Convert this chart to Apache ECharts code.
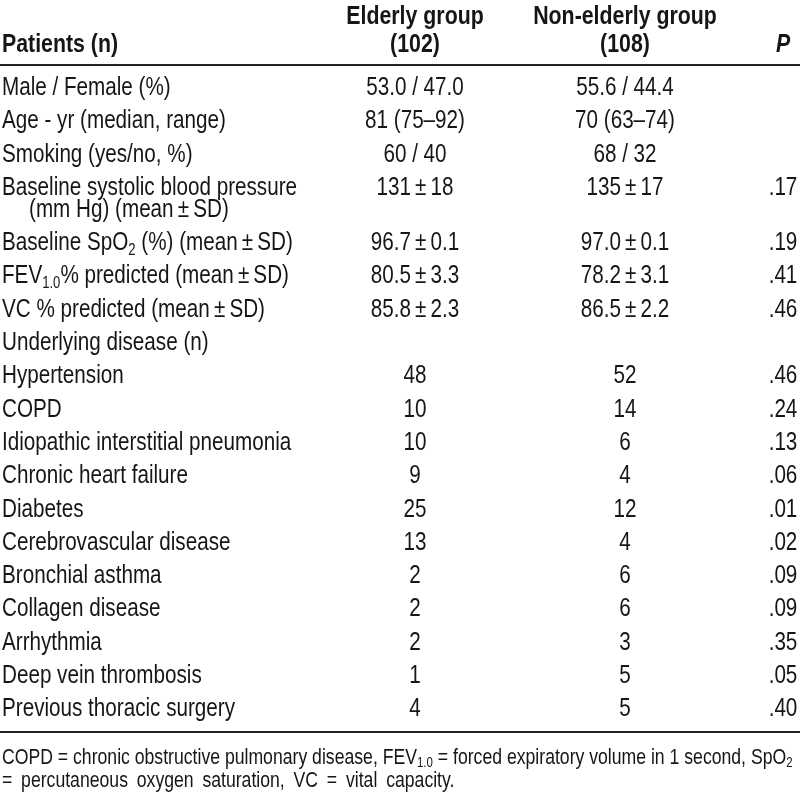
<!DOCTYPE html>
<html>
<head>
<meta charset="utf-8">
<script src="https://cdn.jsdelivr.net/npm/echarts@6/dist/echarts.min.js"></script>
<style>html,body{margin:0;padding:0;background:#fff}#c{width:800px;height:800px}</style>
</head>
<body>
<div id="c"></div>
<script>
// ---- data ----
const headerTop = ['', 'Elderly group', 'Non-elderly group', ''];
const headerBottom = ['Patients (n)', '(102)', '(108)', 'P'];
const rowLabels = [
  'Male / Female (%)',
  'Age - yr (median, range)',
  'Smoking (yes/no, %)',
  'Baseline systolic blood pressure\n(mm Hg) (mean\u2009±\u2009SD)',
  'Baseline SpO{sub|2} (%) (mean\u2009±\u2009SD)',
  'FEV{sub|1.0}% predicted (mean\u2009±\u2009SD)',
  'VC % predicted (mean\u2009±\u2009SD)',
  'Underlying disease (n)',
  'Hypertension',
  'COPD',
  'Idiopathic interstitial pneumonia',
  'Chronic heart failure',
  'Diabetes',
  'Cerebrovascular disease',
  'Bronchial asthma',
  'Collagen disease',
  'Arrhythmia',
  'Deep vein thrombosis',
  'Previous thoracic surgery'
];
const elderly = ['53.0 / 47.0', '81 (75–92)', '60 / 40', '131\u2009±\u200918', '96.7\u2009±\u20090.1', '80.5\u2009±\u20093.3', '85.8\u2009±\u20092.3', '', '48', '10', '10', '9', '25', '13', '2', '2', '2', '1', '4'];
const nonElderly = ['55.6 / 44.4', '70 (63–74)', '68 / 32', '135\u2009±\u200917', '97.0\u2009±\u20090.1', '78.2\u2009±\u20093.1', '86.5\u2009±\u20092.2', '', '52', '14', '6', '4', '12', '4', '6', '6', '3', '5', '5'];
const pValues = ['', '', '', '.17', '.19', '.41', '.46', '', '.46', '.24', '.13', '.06', '.01', '.02', '.09', '.09', '.35', '.05', '.40'];
const footnote = [
  'COPD = chronic obstructive pulmonary disease, FEV{fsub|1.0} = forced expiratory volume in 1 second, SpO{fsub|2}',
  '= percutaneous oxygen saturation, VC = vital capacity.'
];

// ---- layout & style ----
const FONT = "'Liberation Sans', Arial, sans-serif";
const NARROW = 0.82;           // horizontal compression to mimic a condensed face
const colX = [2, 415, 625, 783];
const indent = 27;
const headY = [17, 45];
const firstRowY = 88;
const pitch = 33.3;
const subLine = 22;
const ruleTop = 65;
const ruleBottom = 732;
const footY = [758, 781];
const footWideSpace = [false, true];
const COLOR = '#161616';
const BODY = 25.2, HEAD = 26, FOOT = 21.5;

const rich = {
  sub: { fontSize: 16, lineHeight: 14, verticalAlign: 'bottom', fontFamily: FONT, fill: COLOR },
  fsub: { fontSize: 14, lineHeight: 12, verticalAlign: 'bottom', fontFamily: FONT, fill: COLOR }
};

const cells = [];
function cell(x, y, text, align, opt) {
  cells.push(Object.assign({ x: x, y: y, text: text, align: align, size: BODY, weight: 'normal', style: 'normal', lh: 30 }, opt || {}));
}
headerTop.forEach((t, i) => { if (t) cell(colX[i], headY[0], t, 'center', { weight: 'bold', size: HEAD }); });
headerBottom.forEach((t, i) => cell(colX[i], headY[1], t, i === 0 ? 'left' : 'center', { weight: 'bold', size: HEAD, style: i === 3 ? 'italic' : 'normal' }));
let y = firstRowY;
rowLabels.forEach((lab, i) => {
  const lines = lab.split('\n');
  lines.forEach((ln, k) => cell(colX[0] + (k ? indent : 0), y + k * subLine, ln, 'left'));
  if (elderly[i]) cell(colX[1], y, elderly[i], 'center');
  if (nonElderly[i]) cell(colX[2], y, nonElderly[i], 'center');
  if (pValues[i]) cell(colX[3], y, pValues[i], 'center');
  y += pitch + (lines.length - 1) * subLine;
});
footnote.forEach((t, k) => cell(colX[0], footY[k], footWideSpace[k] ? t.replace(/ /g, '\u2002') : t, 'left', { size: FOOT, lh: 25 }));

const chart = echarts.init(document.getElementById('c'), null, { renderer: 'canvas' });
chart.setOption({
  animation: false,
  backgroundColor: '#fff',
  grid: { left: 0, right: 0, top: 0, bottom: 0 },
  xAxis: { type: 'value', min: 0, max: 800, show: false },
  yAxis: { type: 'value', min: 0, max: 800, inverse: true, show: false },
  series: [{
    type: 'custom',
    silent: true,
    data: cells.map(c => [c.x, c.y]),
    renderItem: function (params, api) {
      const c = cells[params.dataIndex];
      const p = api.coord([api.value(0), api.value(1)]);
      return {
        type: 'text',
        x: p[0], y: p[1],
        scaleX: NARROW,
        style: {
          text: c.text,
          fill: COLOR,
          fontFamily: FONT,
          fontSize: c.size,
          fontWeight: c.weight,
          fontStyle: c.style,
          lineHeight: c.lh,
          align: c.align,
          verticalAlign: 'middle',
          rich: rich
        }
      };
    },
    markLine: {
      silent: true,
      symbol: 'none',
      label: { show: false },
      lineStyle: { color: '#222', width: 2, type: 'solid' },
      data: [{ yAxis: ruleTop }, { yAxis: ruleBottom }]
    }
  }]
});
</script>
</body>
</html>
